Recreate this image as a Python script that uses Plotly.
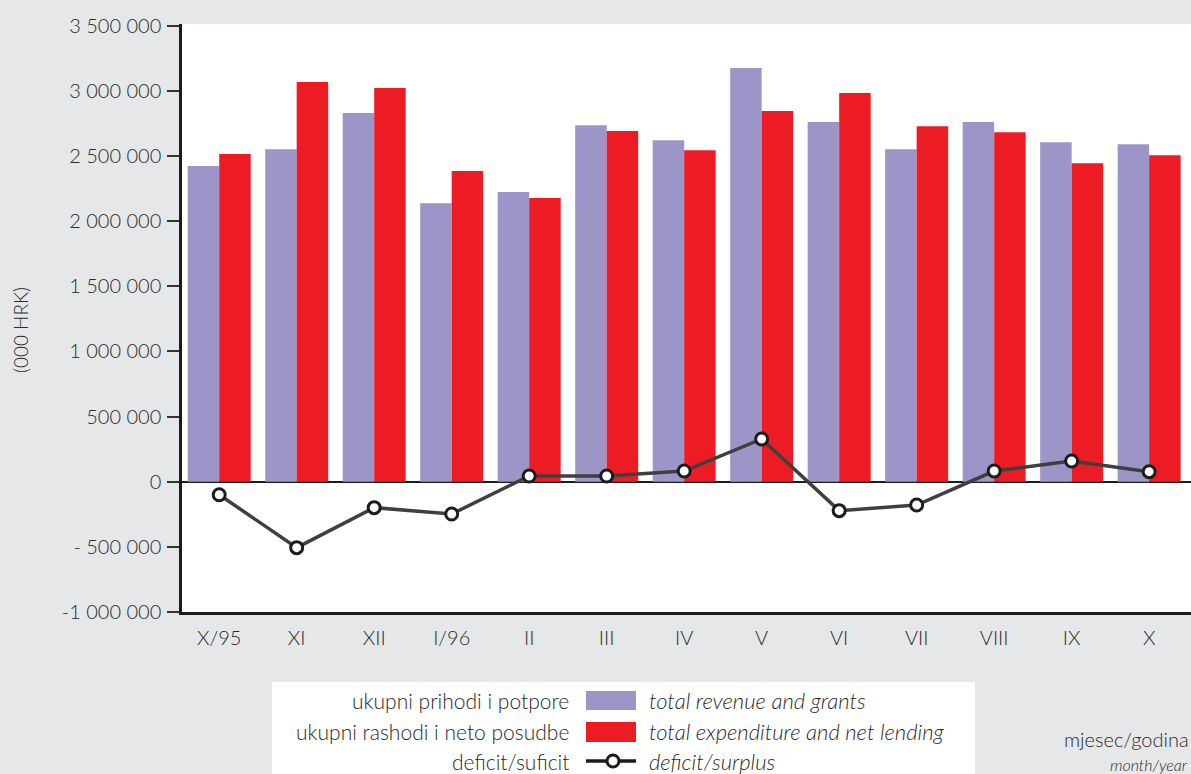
import plotly.graph_objects as go

categories = ["X/95", "XI", "XII", "I/96", "II", "III", "IV", "V", "VI", "VII", "VIII", "IX", "X"]
revenue = [2423000, 2552000, 2829000, 2137000, 2223000, 2736000, 2621000, 3175000, 2760000, 2552000, 2760000, 2606000, 2590000]
expenditure = [2515000, 3067000, 3021000, 2385000, 2177000, 2691000, 2544000, 2845000, 2983000, 2728000, 2683000, 2444000, 2506000]
balance = [-100000, -506000, -199000, -248000, 44000, 44000, 82000, 328000, -222000, -179000, 82000, 159000, 77000]

y_tickvals = [-1000000, -500000, 0, 500000, 1000000, 1500000, 2000000, 2500000, 3000000, 3500000]
y_ticktext = ["-1 000 000", "- 500 000", "0", "500 000", "1 000 000", "1 500 000",
              "2 000 000", "2 500 000", "3 000 000", "3 500 000"]

label_hr = ["ukupni prihodi i potpore", "ukupni rashodi i neto posudbe", "deficit/suficit"]
label_en = ["total revenue and grants", "total expenditure and net lending", "deficit/surplus"]

PURPLE = "#9c96c8"
RED = "#ed1c24"
TXT = "#2a2a2a"
FONT = "Lato"
FW = 300

W, H = 1191, 774
L, R, T, B = 182, 0, 24, 162


def px(x):
    return (x - L) / (W - L - R)


def py(y):
    return (H - B - y) / (H - B - T)


fig = go.Figure()
fig.add_trace(go.Bar(x=categories, y=revenue, name=label_en[0], marker=dict(color=PURPLE, line=dict(width=0))))
fig.add_trace(go.Bar(x=categories, y=expenditure, name=label_en[1], marker=dict(color=RED, line=dict(width=0))))
fig.add_trace(go.Scatter(x=categories, y=balance, name=label_en[2], mode="lines+markers",
                         line=dict(color="#3f3f3f", width=3.5),
                         marker=dict(size=12, color="white", line=dict(color="#1c1c1c", width=3))))

shapes = []
annotations = []

# legend box
shapes.append(dict(type="rect", xref="paper", yref="paper", x0=px(272), x1=px(975), y0=py(774), y1=py(682),
                   fillcolor="white", line=dict(width=0), layer="below"))
# swatches
shapes.append(dict(type="rect", xref="paper", yref="paper", x0=px(586), x1=px(636), y0=py(710), y1=py(691),
                   fillcolor=PURPLE, line=dict(width=0)))
shapes.append(dict(type="rect", xref="paper", yref="paper", x0=px(586), x1=px(636), y0=py(742), y1=py(722),
                   fillcolor=RED, line=dict(width=0)))
shapes.append(dict(type="line", xref="paper", yref="paper", x0=px(586), x1=px(636), y0=py(761), y1=py(761),
                   line=dict(color="#1c1c1c", width=3.5)))
shapes.append(dict(type="circle", xref="paper", yref="paper", x0=px(607), x1=px(619), y0=py(767), y1=py(755),
                   fillcolor="white", line=dict(color="#1c1c1c", width=3)))

row_y = [700, 731, 761]
for i in range(3):
    annotations.append(dict(xref="paper", yref="paper", x=px(571), y=py(row_y[i]), xanchor="right", yanchor="middle",
                            text=label_hr[i], showarrow=False, font=dict(family=FONT, size=21, color=TXT, weight=FW)))
    annotations.append(dict(xref="paper", yref="paper", x=px(647), y=py(row_y[i]), xanchor="left", yanchor="middle",
                            text="<i>" + label_en[i] + "</i>", showarrow=False,
                            font=dict(family=FONT, size=22, color=TXT, weight=FW)))

annotations.append(dict(xref="paper", yref="paper", x=px(1191), y=py(739), xanchor="right", yanchor="middle",
                        text="mjesec/godina", showarrow=False, font=dict(family=FONT, size=20, color=TXT, weight=FW)))
annotations.append(dict(xref="paper", yref="paper", x=px(1190), y=py(764), xanchor="right", yanchor="middle",
                        text="<i>month/year</i>", showarrow=False, font=dict(family=FONT, size=16, color=TXT, weight=FW)))
annotations.append(dict(xref="paper", yref="paper", x=px(20), y=py(330), xanchor="center", yanchor="middle",
                        text="(000 HRK)", textangle=-90, showarrow=False,
                        font=dict(family=FONT, size=19, color=TXT, weight=FW)))

fig.update_layout(
    width=W, height=H,
    margin=dict(l=L, r=R, t=T, b=B, pad=0),
    paper_bgcolor="#e6e7e8",
    plot_bgcolor="white",
    barmode="group", bargap=0.187, bargroupgap=0,
    showlegend=False,
    font=dict(family=FONT, size=20, color=TXT, weight=FW),
    shapes=shapes,
    annotations=annotations,
)
fig.update_xaxes(range=[-0.48, 12.54], showline=True, linecolor="#1c1c1c", linewidth=2.5, ticks="",
                 showgrid=False, tickfont=dict(family=FONT, size=20, color=TXT, weight=FW), ticklabelstandoff=6)
fig.update_yaxes(range=[-1000000, 3513000], tickvals=y_tickvals, ticktext=y_ticktext,
                 showline=True, linecolor="#1c1c1c", linewidth=2.5, ticks="outside", ticklen=12,
                 tickcolor="#333333", tickwidth=1.5, showgrid=False,
                 zeroline=True, zerolinecolor="#1c1c1c", zerolinewidth=2,
                 tickfont=dict(family=FONT, size=20, color=TXT, weight=FW), ticklabelstandoff=2)

fig.write_html("out.html", config={"displayModeBar": False},
               post_script="document.body.style.margin='0';document.body.style.overflow='hidden';")
